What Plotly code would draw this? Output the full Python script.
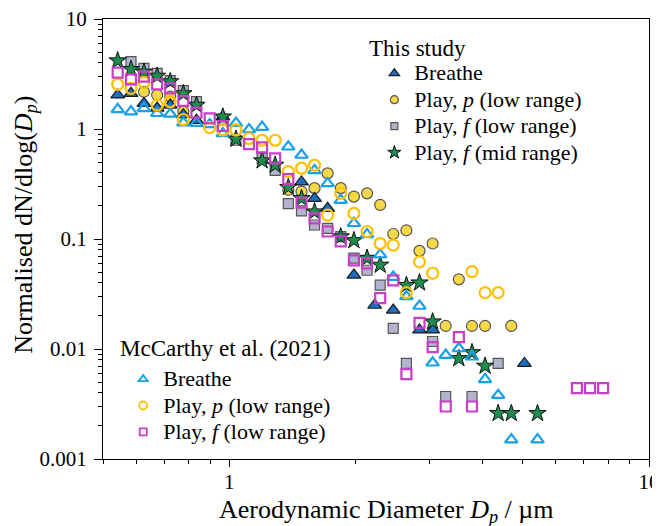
import plotly.graph_objects as go

# ---------------- data ----------------
# This study
breathe_x = [0.542, 0.583, 0.626, 0.673, 0.723, 0.777, 0.835, 0.965, 1.486, 1.596, 1.715, 1.981, 2.22, 2.458, 2.839, 3.051, 5.048]
breathe_y = [2.04, 2.11, 1.71, 1.55, 1.65, 1.35, 1.2, 1.29, 0.33, 0.234, 0.19, 0.047, 0.025, 0.0226, 0.0149, 0.0149, 0.0074]

play_p_x = [0.626, 0.673, 0.723, 0.777, 1.382, 1.486, 1.596, 1.715, 1.843, 1.981, 2.129, 2.288, 2.458, 2.642, 2.839, 3.051, 3.278, 3.523, 3.786, 4.068, 4.698]
play_p_y = [2.18, 2.04, 1.97, 1.44, 0.28, 0.27, 0.29, 0.395, 0.29, 0.243, 0.26, 0.204, 0.111, 0.12, 0.078, 0.091, 0.0162, 0.043, 0.0162, 0.0162, 0.0162]

play_f_low_x = [0.583, 0.626, 0.673, 0.723, 0.777, 0.835, 0.965, 1.037, 1.197, 1.286, 1.382, 1.486, 1.596, 1.715, 1.843, 1.981, 2.129, 2.288, 2.458, 2.642, 3.051, 3.278, 3.786, 4.371]
play_f_low_y = [4.1, 3.56, 3.21, 2.75, 2.23, 1.77, 1.21, 0.79, 0.54, 0.42, 0.21, 0.18, 0.134, 0.125, 0.105, 0.067, 0.052, 0.038, 0.0154, 0.0074, 0.0117, 0.0037, 0.0037, 0.0074]

play_f_mid_x = [0.542, 0.583, 0.626, 0.673, 0.723, 0.777, 0.835, 0.965, 1.037, 1.197, 1.286, 1.382, 1.486, 1.596, 1.843, 1.981, 2.129, 2.288, 2.642, 2.839, 3.051, 3.523, 3.786, 4.068, 4.371, 4.698, 5.425]
play_f_mid_y = [4.18, 3.49, 3.3, 3.03, 2.7, 2.1, 1.65, 1.29, 0.81, 0.515, 0.47, 0.295, 0.234, 0.177, 0.105, 0.097, 0.067, 0.058, 0.038, 0.040, 0.0177, 0.0082, 0.0093, 0.0070, 0.0026, 0.0026, 0.0026]

# McCarthy et al. (2021)
mc_breathe_x = [0.542, 0.583, 0.626, 0.673, 0.723, 0.777, 0.835, 0.898, 0.965, 1.037, 1.114, 1.197, 1.382, 1.486, 1.596, 1.715, 1.843, 1.981, 2.129, 2.288, 2.458, 2.642, 2.839, 3.051, 3.278, 3.523, 3.786, 4.068, 4.371, 4.698, 5.425]
mc_breathe_y = [1.51, 1.44, 1.54, 1.39, 1.37, 1.14, 1.13, 1.1, 0.91, 1.13, 0.99, 1.04, 0.69, 0.58, 0.42, 0.32, 0.226, 0.139, 0.11, 0.072, 0.045, 0.030, 0.0246, 0.0075, 0.0088, 0.0101, 0.0085, 0.0053, 0.0038, 0.0015, 0.0015]

mc_play_p_x = [0.542, 0.583, 0.626, 0.673, 0.723, 0.777, 0.898, 0.965, 1.037, 1.114, 1.197, 1.286, 1.382, 1.486, 1.596, 1.715, 1.843, 1.981, 2.129, 2.288, 2.458, 2.642, 2.839, 3.051, 3.786, 4.068, 4.371]
mc_play_p_y = [2.55, 2.34, 2.65, 1.65, 1.77, 1.22, 1.03, 0.98, 0.98, 0.82, 0.79, 0.79, 0.41, 0.44, 0.47, 0.165, 0.26, 0.171, 0.117, 0.091, 0.088, 0.0325, 0.062, 0.0488, 0.0505, 0.0325, 0.0325]

mc_play_f_x = [0.542, 0.583, 0.626, 0.673, 0.723, 0.777, 0.835, 0.898, 0.965, 1.114, 1.197, 1.286, 1.382, 1.486, 1.596, 1.715, 1.843, 1.981, 2.129, 2.288, 2.458, 2.642, 2.839, 3.051, 3.278, 3.523, 3.786, 6.732, 7.234, 7.774]
mc_play_f_y = [3.25, 2.83, 2.99, 2.55, 2.34, 1.80, 1.41, 1.25, 1.065, 0.73, 0.68, 0.54, 0.35, 0.214, 0.154, 0.117, 0.095, 0.064, 0.060, 0.029, 0.042, 0.0059, 0.0173, 0.0104, 0.0030, 0.0128, 0.0030, 0.0044, 0.0044, 0.0044]

y_tick_vals = [0.001, 0.01, 0.1, 1, 10]
y_tick_text = ["0.001", "0.01", "0.1", "1", "10"]
x_tick_vals = [1, 10]
x_tick_text = ["1", "10"]

FONT = "Liberation Serif, Times New Roman, serif"
LEG_TXT = '<span style="font-size:22px">{}</span>'

fig = go.Figure()

# (x, y, legend label, symbol, fill, outline, outline width, size, legend, rank)
series = [
    (play_f_low_x, play_f_low_y, "Play, <i>f</i> (low range)", "square", "#b3b3cf", "#555555", 1.2, 10, "legend", 3),
    (play_p_x, play_p_y, "Play, <i>p</i> (low range)", "circle", "#f7d847", "#555555", 1.2, 11, "legend", 2),
    (breathe_x, breathe_y, "Breathe", "triangle-up", "#1f6fc0", "#1a1a1a", 1.2, 12, "legend", 1),
    (play_f_mid_x, play_f_mid_y, "Play, <i>f</i> (mid range)", "star", "#1e8c4e", "#111111", 1.0, 13, "legend", 4),
    (mc_breathe_x, mc_breathe_y, "Breathe", "triangle-up-open", "#1aa0e6", "#1aa0e6", 2.2, 11, "legend2", 1),
    (mc_play_p_x, mc_play_p_y, "Play, <i>p</i> (low range)", "circle-open", "#ffc000", "#ffc000", 2.2, 11, "legend2", 2),
    (mc_play_f_x, mc_play_f_y, "Play, <i>f</i> (low range)", "square-open", "#c63fc6", "#c63fc6", 2.2, 10, "legend2", 3),
]

for x, y, name, sym, fill, outline, lw, size, leg, rank in series:
    fig.add_trace(go.Scatter(
        x=x, y=y, mode="markers", name=name, showlegend=False,
        marker=dict(symbol=sym, size=size, color=fill, line=dict(color=outline, width=lw)),
    ))

# legend keys (no data drawn), with smaller symbols as in the reference
for x, y, name, sym, fill, outline, lw, size, leg, rank in series:
    fig.add_trace(go.Scatter(
        x=[None], y=[None], mode="markers", name=LEG_TXT.format(name), legend=leg,
        legendrank=rank, showlegend=True,
        marker=dict(symbol=sym, size=size - 3, color=fill,
                    line=dict(color=outline, width=min(lw, 1.8))),
    ))

axis_common = dict(
    type="log", showline=True, linecolor="black", linewidth=1.3, mirror=True,
    ticks="outside", tickwidth=1.2, tickcolor="black",
    showgrid=False, zeroline=False, automargin=False, ticklabeloverflow="allow",
    tickfont=dict(family=FONT, size=21, color="black"),
)

minor_y = [m * 10.0 ** e for e in range(-3, 1) for m in range(2, 10)]
minor_x = [m / 10 for m in range(5, 10)] + list(range(2, 10))

fig.update_xaxes(
    **axis_common, range=[-0.30103, 1.0], ticklen=7, ticklabelstandoff=-3,
    tickmode="array", tickvals=x_tick_vals, ticktext=x_tick_text,
    minor=dict(tickmode="array", tickvals=minor_x, ticks="outside", ticklen=4, tickcolor="black", showgrid=False),
)
fig.update_yaxes(
    **axis_common, range=[-3, 1], ticklen=8, ticklabelstandoff=3,
    tickmode="array", tickvals=y_tick_vals, ticktext=y_tick_text,
    minor=dict(tickmode="array", tickvals=minor_y, ticks="outside", ticklen=4, tickcolor="black", showgrid=False),
)

legend_common = dict(
    font=dict(family=FONT, size=18, color="black"),
    bgcolor="rgba(0,0,0,0)", borderwidth=0, tracegroupgap=0,
    xanchor="left", yanchor="top", itemsizing="trace", traceorder="normal",
)

fig.update_layout(
    width=660, height=526,
    # the page puts the figure 8 px in from the top-left corner
    margin=dict(l=95, r=19, t=11, b=75),
    paper_bgcolor="white", plot_bgcolor="white",
    showlegend=True,
    legend=dict(**legend_common, x=0.497, y=0.918),
    legend2=dict(**legend_common, x=0.037, y=0.223),
    annotations=[
        dict(text="This study", xref="paper", yref="paper", x=0.4835, y=0.934,
             xanchor="left", yanchor="middle", showarrow=False,
             font=dict(family=FONT, size=23, color="black")),
        dict(text="McCarthy et al. (2021)", xref="paper", yref="paper", x=0.027, y=0.252,
             xanchor="left", yanchor="middle", showarrow=False,
             font=dict(family=FONT, size=23, color="black")),
        dict(text="Aerodynamic Diameter <i>D</i><sub><i>p</i></sub> / µm",
             xref="paper", yref="paper", x=0.520, y=-0.118,
             xanchor="center", yanchor="middle", showarrow=False,
             font=dict(family=FONT, size=26, color="black")),
        dict(text="Normalised dN/dlog(<i>D</i><sub><i>p</i></sub>)",
             xref="paper", yref="paper", x=-0.143, y=0.532, textangle=-90,
             xanchor="center", yanchor="middle", showarrow=False,
             font=dict(family=FONT, size=26, color="black")),
    ],
)

fig.write_html("out.html")
